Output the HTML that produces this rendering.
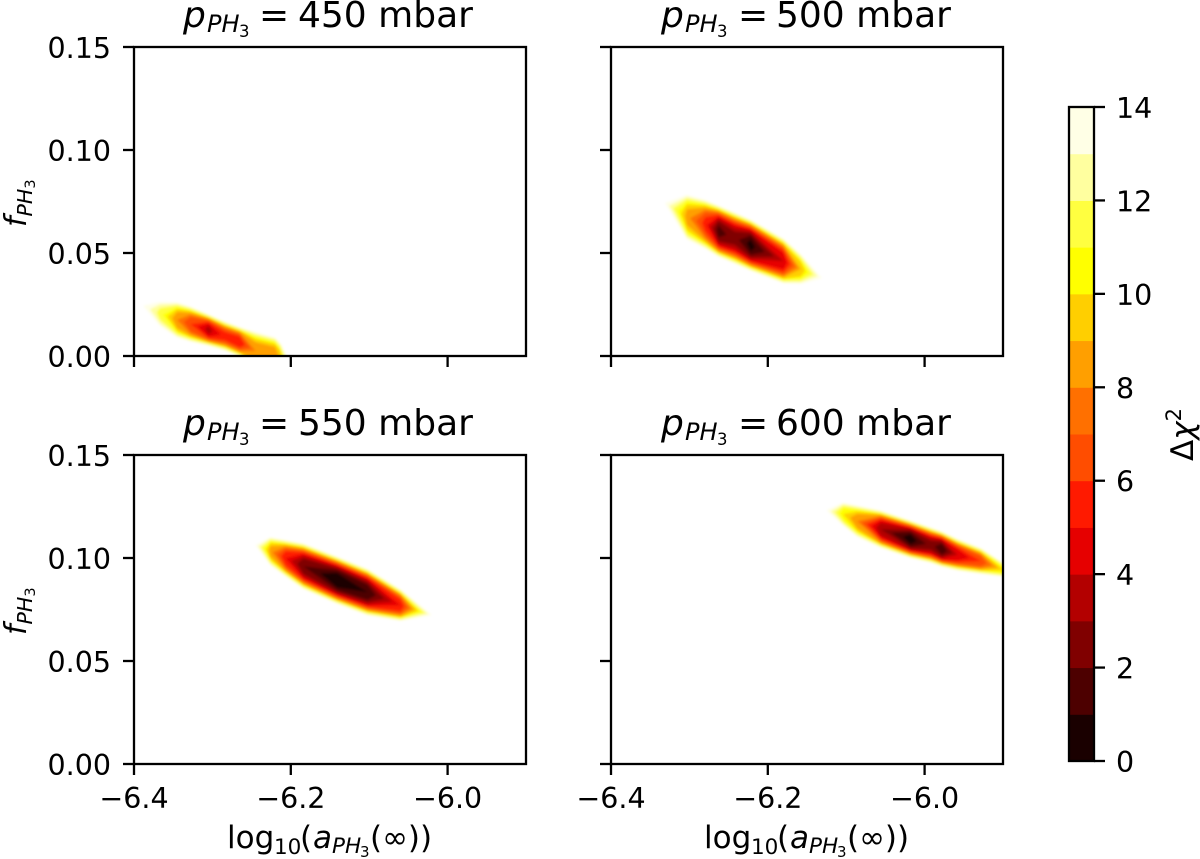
<!DOCTYPE html>
<html lang="en">
<head>
<meta charset="utf-8">
<title>PH3 contour panels</title>
<style>
html,body{margin:0;padding:0;background:#fff;width:1200px;height:859px;overflow:hidden}
svg{display:block}
text{font-family:"DejaVu Sans","Liberation Sans",sans-serif;fill:#000}
.i{font-style:italic}
</style>
</head>
<body>
<svg id="fig" width="1200" height="859" viewBox="0 0 1200 859" xmlns="http://www.w3.org/2000/svg">
<defs>
<filter id="soft" filterUnits="userSpaceOnUse" x="0" y="0" width="1200" height="859"><feGaussianBlur stdDeviation="1.4"/></filter>
</defs>
<rect width="1200" height="859" fill="#fff"/>
<g id="panels"></g>
<g id="cbar"></g>

<text y="27" font-size="36"><tspan class="i" x="183">p</tspan><tspan class="i" font-size="24" x="207" y="32">PH</tspan><tspan font-size="16.5" x="239" y="37">3</tspan><tspan x="259" y="27">=</tspan><tspan x="298" y="27">450 mbar</tspan></text>
<text y="27" font-size="36"><tspan class="i" x="661">p</tspan><tspan class="i" font-size="24" x="685" y="32">PH</tspan><tspan font-size="16.5" x="717" y="37">3</tspan><tspan x="738" y="27">=</tspan><tspan x="776" y="27">500 mbar</tspan></text>
<text y="435" font-size="36"><tspan class="i" x="183">p</tspan><tspan class="i" font-size="24" x="207" y="440">PH</tspan><tspan font-size="16.5" x="239" y="445">3</tspan><tspan x="259" y="435">=</tspan><tspan x="298" y="435">550 mbar</tspan></text>
<text y="435" font-size="36"><tspan class="i" x="661">p</tspan><tspan class="i" font-size="24" x="685" y="440">PH</tspan><tspan font-size="16.5" x="717" y="445">3</tspan><tspan x="738" y="435">=</tspan><tspan x="776" y="435">600 mbar</tspan></text>

<text transform="translate(26,227) rotate(-90)" font-size="30"><tspan class="i">f</tspan><tspan class="i" font-size="20.5" dy="6">PH</tspan><tspan font-size="14.5" dy="3">3</tspan></text>
<text transform="translate(26,635) rotate(-90)" font-size="30"><tspan class="i">f</tspan><tspan class="i" font-size="20.5" dy="6">PH</tspan><tspan font-size="14.5" dy="3">3</tspan></text>

<text y="848" font-size="31"><tspan x="227">log</tspan><tspan font-size="21.5" x="274" y="854">10</tspan><tspan x="300" y="848">(</tspan><tspan class="i" x="313" y="848">a</tspan><tspan class="i" font-size="21.5" x="332" y="853">PH</tspan><tspan font-size="15" x="360" y="857">3</tspan><tspan x="370" y="848">(∞))</tspan></text>
<text y="848" font-size="31"><tspan x="704">log</tspan><tspan font-size="21.5" x="751" y="854">10</tspan><tspan x="777" y="848">(</tspan><tspan class="i" x="790" y="848">a</tspan><tspan class="i" font-size="21.5" x="809" y="853">PH</tspan><tspan font-size="15" x="837" y="857">3</tspan><tspan x="847" y="848">(∞))</tspan></text>

<text transform="translate(1193,461) rotate(-90)" font-size="31">Δ<tspan class="i">χ</tspan><tspan font-size="21" dy="-12">2</tspan></text>
</svg>

<script>
// Axis tick values
const xTickValues = [-6.4, -6.2, -6.0];
const yTickValues = [0, 0.05, 0.10, 0.15];
const colorbarTicks = [0, 2, 4, 6, 8, 10, 12, 14];

// Contour band colours, one per unit of delta chi-squared (0-1 ... 13-14)
const bandColors = ['#1a0000','#4d0000','#800000','#b30000','#e60000','#ff1a00','#ff4d00','#ff7000','#ff9f00','#ffcf00','#ffff00','#ffff40','#ffff9f','#ffffe6'];

// Valley: log10(a), valley-floor f, half-width of the 14 contour, floor delta chi-squared
const panel450A    = [-6.388,-6.367,-6.345,-6.328,-6.305,-6.284,-6.265,-6.245,-6.220,-6.213,-6.205];
const panel450F    = [0.0243,0.0204,0.0175,0.0155,0.0126,0.0097,0.0068,0.0025,0.0010,0.0000,0.0000];
const panel450Half = [0.0010,0.0058,0.0085,0.0085,0.0076,0.0070,0.0072,0.0092,0.0080,0.0060,0];
const panel450Min  = [14,11.5,8,6,3.5,5.5,5,8,8.2,9.5,14];

const panel500A    = [-6.331,-6.303,-6.280,-6.263,-6.242,-6.222,-6.180,-6.158,-6.131];
const panel500F    = [0.0742,0.0674,0.0640,0.0606,0.0572,0.0538,0.0461,0.0422,0.0378];
const panel500Half = [0.0010,0.0108,0.0118,0.0124,0.0124,0.0124,0.0108,0.0072,0.0010];
const panel500Min  = [14,8.5,5.5,1.5,2.5,0.5,4,9,14];

const panel550A    = [-6.245,-6.226,-6.207,-6.184,-6.141,-6.102,-6.060,-6.020];
const panel550F    = [0.1062,0.1033,0.0999,0.0960,0.0892,0.0834,0.0771,0.0723];
const panel550Half = [0.0010,0.0068,0.0088,0.0110,0.0114,0.0112,0.0076,0.0010];
const panel550Min  = [14,8.5,5,2,0,1,5,14];

const panel600A    = [-6.125,-6.104,-6.086,-6.056,-6.018,-5.992,-5.978,-5.958,-5.928,-5.899,-5.877];
const panel600F    = [0.1232,0.1213,0.1179,0.1140,0.1091,0.1062,0.1043,0.1016,0.0985,0.0941,0.0917];
const panel600Half = [0.0010,0.0055,0.0076,0.0090,0.0090,0.0085,0.0085,0.0076,0.0062,0.0032,0];
const panel600Min  = [14,10,8,3,0.3,2.5,1,4,6,10,14];

const NS = 'http://www.w3.org/2000/svg';
function make(tag, attrs, parent, txt) {
  const el = document.createElementNS(NS, tag);
  for (const k in attrs) el.setAttribute(k, attrs[k]);
  if (txt !== undefined) el.textContent = txt;
  parent.appendChild(el);
  return el;
}
const AX_W = 392, AX_H = 309, TICK = 10, SPINE = 2.3;
const xMin = -6.4, xMax = -5.9, yMin = 0, yMax = 0.15;

function fmtX(v) { return '\u2212' + Math.abs(v).toFixed(1); }

function contourPolys(p, level) {
  const n = p.a.length;
  const half = i => {
    if (p.min[i] >= 14) return p.half[i];
    return p.half[i] * Math.pow(Math.max(0, level - p.min[i]) / (14 - p.min[i]), 0.44);
  };
  const polys = [];
  let up = null, lo = null;
  const tip = (i, j) => {
    const t = (level - p.min[i]) / (p.min[j] - p.min[i]);
    return [p.a[i] + t * (p.a[j] - p.a[i]), p.f[i] + t * (p.f[j] - p.f[i])];
  };
  for (let i = 0; i < n; i++) {
    const inside = p.min[i] < level;
    if (inside) {
      if (!up) {
        up = []; lo = [];
        if (i > 0) { const c = tip(i - 1, i); up.push(c); }
      }
      const h = half(i);
      up.push([p.a[i], p.f[i] + h]);
      lo.push([p.a[i], p.f[i] - h]);
    }
    if (up && (!inside || i === n - 1)) {
      if (!inside) { const c = tip(i - 1, i); up.push(c); }
      polys.push(up.concat(lo.reverse()));
      up = null; lo = null;
    }
  }
  return polys;
}

const panels = [
  {key:'450', x0:134, y0:47,  a:panel450A, f:panel450F, half:panel450Half, min:panel450Min, xl:false, yl:true},
  {key:'500', x0:611, y0:47,  a:panel500A, f:panel500F, half:panel500Half, min:panel500Min, xl:false, yl:false},
  {key:'550', x0:134, y0:455, a:panel550A, f:panel550F, half:panel550Half, min:panel550Min, xl:true,  yl:true},
  {key:'600', x0:611, y0:455, a:panel600A, f:panel600F, half:panel600Half, min:panel600Min, xl:true,  yl:false}
];

const root = document.getElementById('panels');
const defs = document.querySelector('defs');
panels.forEach(p => {
  const sx = v => p.x0 + (v - xMin) / (xMax - xMin) * AX_W;
  const sy = v => p.y0 + AX_H - (v - yMin) / (yMax - yMin) * AX_H;

  const clip = make('clipPath', {id:'clip' + p.key}, defs);
  make('rect', {x:p.x0, y:p.y0, width:AX_W, height:AX_H}, clip);

  const g = make('g', {}, root);
  
  

  const outer = make('g', {'clip-path':'url(#clip' + p.key + ')'}, g);
  
  
  const inner = make('g', {filter:'url(#soft)'}, outer);
  for (let L = 14; L >= 1; L--) {
    contourPolys(p, L).forEach(poly => {
      const pts = poly.map(c => sx(c[0]).toFixed(1) + ',' + sy(c[1]).toFixed(1)).join(' ');
      const shape = make('polygon', {points:pts, fill:bandColors[L - 1]}, inner);
      
      
    });
  }

  const frame = make('rect', {x:p.x0, y:p.y0, width:AX_W, height:AX_H, fill:'none', stroke:'#000', 'stroke-width':SPINE}, g);
  
  

  xTickValues.forEach(v => {
    const x = sx(v), yb = p.y0 + AX_H;
    const t = make('line', {x1:x, x2:x, y1:yb, y2:yb + TICK + 1, stroke:'#000', 'stroke-width':SPINE}, g);
    
    
    if (p.xl) {
      const lb = make('text', {x:x, y:yb + 44, 'font-size':28.5, 'text-anchor':'middle'}, g, fmtX(v));
      
      
    }
  });
  yTickValues.forEach(v => {
    const y = sy(v);
    const t = make('line', {x1:p.x0 - TICK - 1, x2:p.x0, y1:y, y2:y, stroke:'#000', 'stroke-width':SPINE}, g);
    
    
    if (p.yl) {
      const lb = make('text', {x:p.x0 - 23, y:y + 11, 'font-size':28.5, 'text-anchor':'end'}, g, v.toFixed(2));
      
      
    }
  });
});

// Colorbar
const cb = document.getElementById('cbar');
const CB_X = 1069, CB_W = 25, CB_TOP = 107, CB_BOT = 761;
const cy = v => CB_BOT - v / 14 * (CB_BOT - CB_TOP);
bandColors.forEach((c, i) => {
  const r = make('rect', {x:CB_X, y:cy(i + 1), width:CB_W, height:cy(i) - cy(i + 1) + 0.5, fill:c}, cb);
  
  
});
const cbFrame = make('rect', {x:CB_X, y:CB_TOP, width:CB_W, height:CB_BOT - CB_TOP, fill:'none', stroke:'#000', 'stroke-width':SPINE}, cb);


colorbarTicks.forEach(v => {
  const y = cy(v);
  const t = make('line', {x1:CB_X + CB_W, x2:CB_X + CB_W + TICK + 1, y1:y, y2:y, stroke:'#000', 'stroke-width':SPINE}, cb);
  
  
  const lb = make('text', {x:1116, y:y + 11, 'font-size':28.5}, cb, String(v));
  
  
});
</script>
</body>
</html>
